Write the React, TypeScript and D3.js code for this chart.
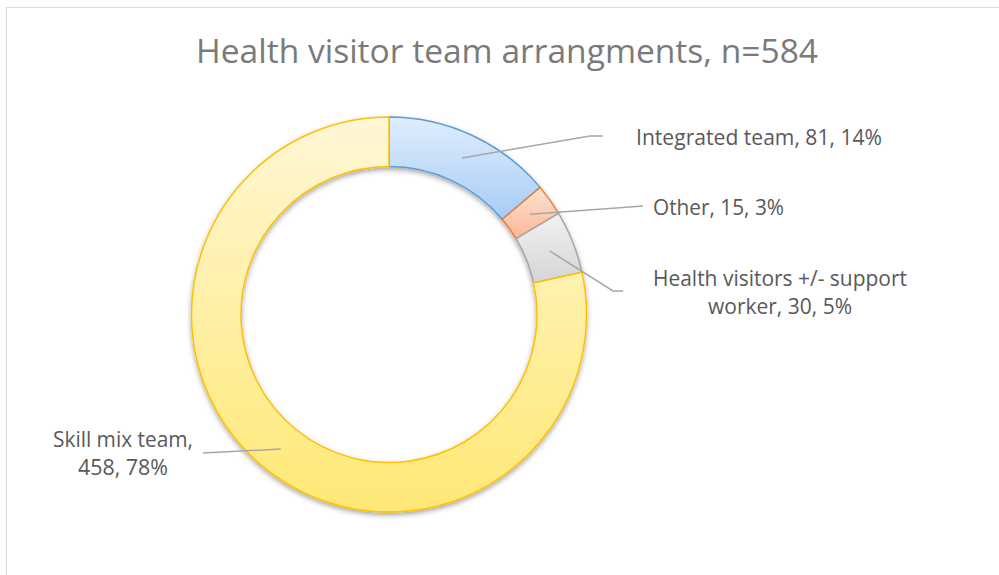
import React from "react";
import * as d3 from "d3";

const categories = ["Integrated team", "Other", "Health visitors +/- support worker", "Skill mix team"];
const values = [81, 15, 30, 458];
const percents = ["14%", "3%", "5%", "78%"];
const titleText = "Health visitor team arrangments, n=584";

const W = 999;
const H = 575;
const cx = 389;
const cy = 314.5;
const outerR = 197.5;
const innerR = 148;

const fills = [
  { top: "#e0edfc", bottom: "#a6cdf6", stroke: "#5b9bd5" },
  { top: "#fde2d3", bottom: "#fbb795", stroke: "#ed7d31" },
  { top: "#f1f1f1", bottom: "#d5d5d5", stroke: "#a5a5a5" },
  { top: "#fff7d6", bottom: "#ffe875", stroke: "#ffc000" },
];

// label layout: lines with x-start, x-end, baseline
const labelLayout = [
  { lines: [{ x0: 636, x1: 882, y: 145 }], elbow: [[590, 136], [603, 136]] },
  { lines: [{ x0: 653, x1: 784, y: 215 }], elbow: [[630, 207], [643, 206]] },
  { lines: [{ x0: 653, x1: 907, y: 286 }, { x0: 708, x1: 852, y: 314 }], elbow: [[613, 291], [623, 291]] },
  { lines: [{ x0: 53, x1: 193, y: 447 }, { x0: 78, x1: 168, y: 475 }], elbow: [[203, 453]] },
];

function labelLines(i: number): string[] {
  const full = `${categories[i]}, ${values[i]}, ${percents[i]}`;
  if (i === 2) return ["Health visitors +/- support", `worker, ${values[i]}, ${percents[i]}`];
  if (i === 3) return [`${categories[i]},`, `${values[i]}, ${percents[i]}`];
  return [full];
}

export default function App() {
  const pie = d3.pie<number>().sort(null).value((d) => d)(values);
  const arc = d3.arc<d3.PieArcDatum<number>>().innerRadius(innerR).outerRadius(outerR);
  const font = "'Open Sans', 'Liberation Sans', sans-serif";

  return (
    <svg width={W} height={H} style={{ position: "absolute", left: 0, top: 0, background: "#fff" }}>
      <defs>
        {fills.map((f, i) => (
          <linearGradient key={i} id={`g${i}`} x1="0" y1="0" x2="0" y2="1">
            <stop offset="0%" stopColor={f.top} />
            <stop offset="100%" stopColor={f.bottom} />
          </linearGradient>
        ))}
        <filter id="shadow" x="-20%" y="-20%" width="140%" height="140%">
          <feDropShadow dx="0" dy="2.5" stdDeviation="2.5" floodColor="#000" floodOpacity="0.35" />
        </filter>
      </defs>
      <rect x={6.5} y={7.5} width={W + 10} height={H + 10} fill="#fff" stroke="#d9d9d9" strokeWidth={1} />
      <text
        x={196}
        y={63}
        fontFamily={font}
        fontSize={33}
        fill="#7a7a7a"
        textLength={622}
        lengthAdjust="spacingAndGlyphs"
      >
        {titleText}
      </text>
      <g transform={`translate(${cx},${cy})`} filter="url(#shadow)">
        {pie.map((p, i) => (
          <path key={i} d={arc(p) || ""} fill={`url(#g${i})`} stroke={fills[i].stroke} strokeWidth={1.5} strokeLinejoin="round" />
        ))}
      </g>
      {pie.map((p, i) => {
        const [mx, my] = arc.centroid(p);
        const pts: [number, number][] = [[cx + mx, cy + my], ...(labelLayout[i].elbow as [number, number][])];
        return (
          <path
            key={`l${i}`}
            d={d3.line()(pts) || ""}
            fill="none"
            stroke="#a6a6a6"
            strokeWidth={1.5}
          />
        );
      })}
      {labelLines.length >= 0 &&
        categories.map((_, i) =>
          labelLines(i).map((t, j) => {
            const L = labelLayout[i].lines[j];
            return (
              <text
                key={`t${i}-${j}`}
                x={L.x0}
                y={L.y}
                fontFamily={font}
                fontSize={21}
                fill="#595959"
                textLength={L.x1 - L.x0}
                lengthAdjust="spacingAndGlyphs"
              >
                {t}
              </text>
            );
          })
        )}
    </svg>
  );
}
